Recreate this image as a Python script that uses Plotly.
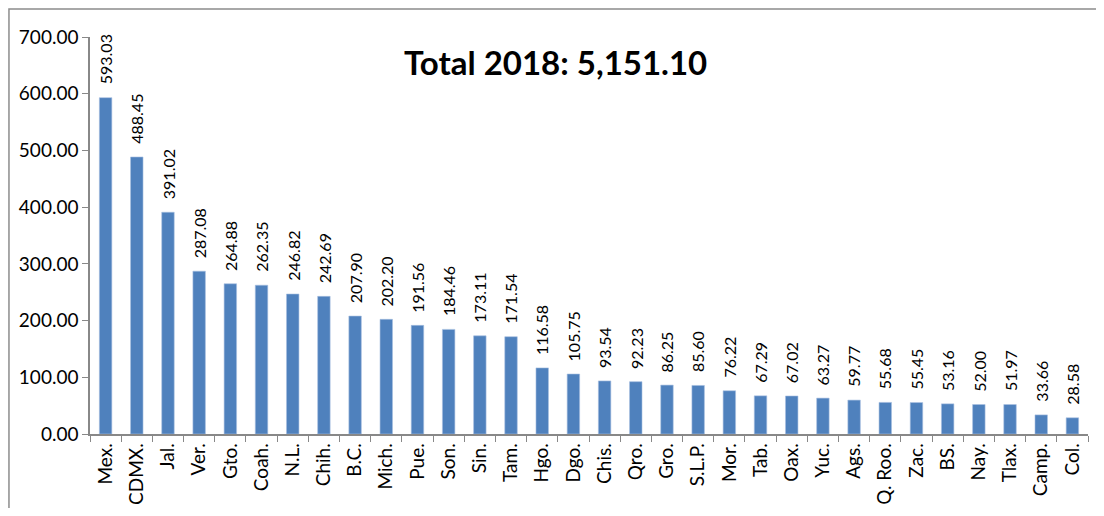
import plotly.graph_objects as go

states = ["Mex.", "CDMX.", "Jal.", "Ver.", "Gto.", "Coah.", "N.L.", "Chih.", "B.C.", "Mich.",
          "Pue.", "Son.", "Sin.", "Tam.", "Hgo.", "Dgo.", "Chis.", "Qro.", "Gro.", "S.L.P.",
          "Mor.", "Tab.", "Oax.", "Yuc.", "Ags.", "Q. Roo.", "Zac.", "BS.", "Nay.", "Tlax.",
          "Camp.", "Col."]
values = [593.03, 488.45, 391.02, 287.08, 264.88, 262.35, 246.82, 242.69, 207.90, 202.20,
          191.56, 184.46, 173.11, 171.54, 116.58, 105.75, 93.54, 92.23, 86.25, 85.60,
          76.22, 67.29, 67.02, 63.27, 59.77, 55.68, 55.45, 53.16, 52.00, 51.97,
          33.66, 28.58]
title_text = "Total 2018: 5,151.10"
y_ticks = [0, 100, 200, 300, 400, 500, 600, 700]

FONT = "Lato"

fig = go.Figure(go.Bar(
    x=states, y=values,
    marker=dict(color="#4F81BD", line=dict(color="#A7C0E0", width=0.6)),
))

annotations = [dict(text=f"<b>{title_text}</b>", xref="paper", yref="paper",
                    x=0.466, y=0.937, xanchor="center", yanchor="middle",
                    showarrow=False, font=dict(family=FONT, size=33, color="#000000"))]
for s, v in zip(states, values):
    annotations.append(dict(x=s, y=v, xref="x", yref="y", text=f"{v:.2f}",
                            textangle=-90, showarrow=False, xanchor="center",
                            yanchor="bottom", yshift=11,
                            font=dict(family=FONT, size=16, color="#000000")))

fig.update_layout(
    width=1088, height=500,
    margin=dict(l=82, r=8, t=29, b=74),
    paper_bgcolor="white", plot_bgcolor="white",
    showlegend=False, bargap=0.6,
    font=dict(family=FONT, color="#000000"),
    annotations=annotations,
    shapes=[dict(type="rect", xref="paper", yref="paper",
                 x0=-0.0812, x1=1.2, y0=-0.4, y1=1.0705,
                 line=dict(color="#8C8C8C", width=1.5), layer="below")],
)
fig.update_xaxes(
    showline=True, linecolor="#888888", linewidth=1.5,
    ticks="outside", tickson="boundaries", ticklen=6, tickcolor="#888888",
    tickangle=-90, tickfont=dict(family=FONT, size=19, color="#000000"),
    showgrid=False, automargin=False,
)
fig.update_yaxes(
    range=[0, 700], tickvals=y_ticks, tickformat=".2f",
    showline=True, linecolor="#888888", linewidth=1.5,
    ticks="outside", ticklen=6, tickcolor="#888888",
    tickfont=dict(family=FONT, size=19, color="#000000"),
    showgrid=False, zeroline=False, automargin=False,
)

fig.write_html("out.html")
